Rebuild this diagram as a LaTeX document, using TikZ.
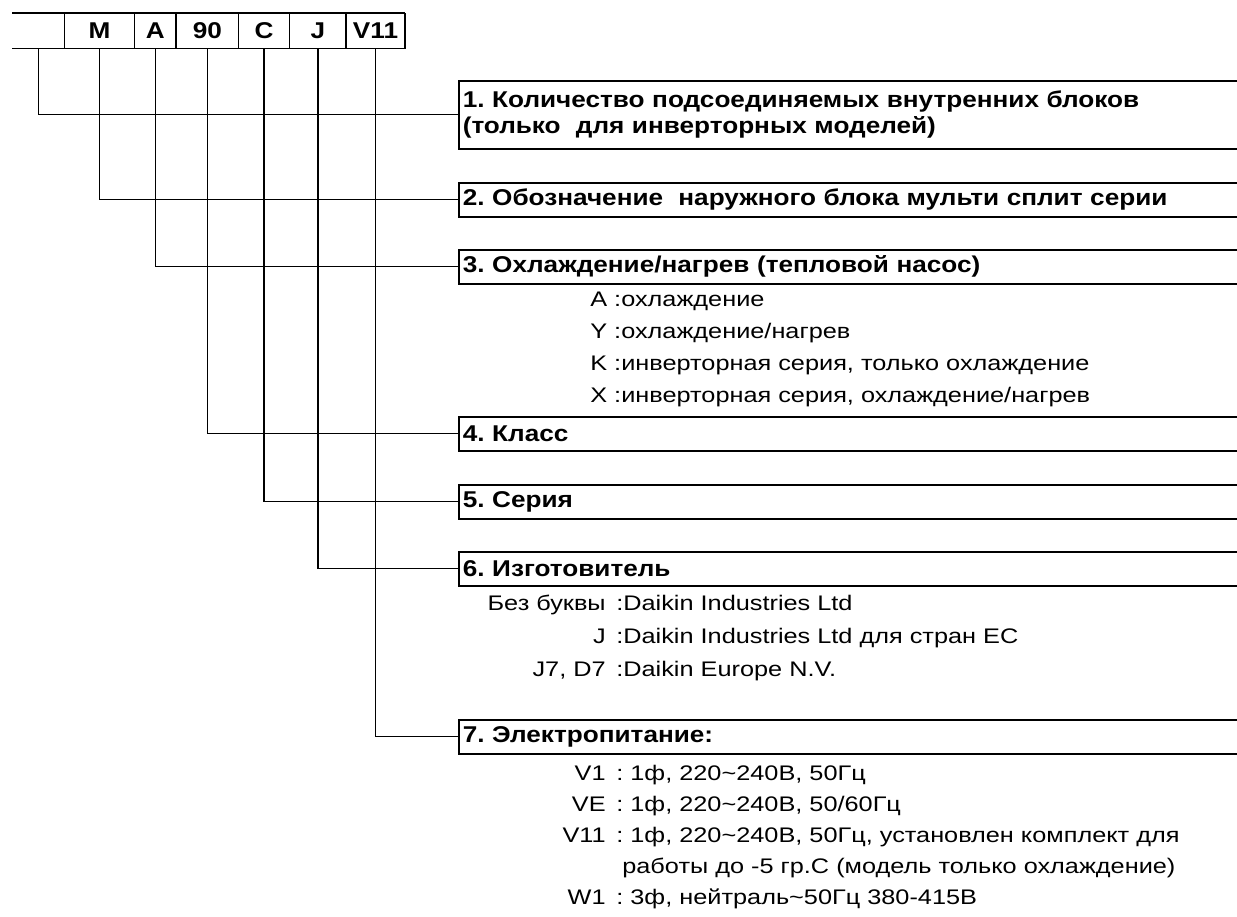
\documentclass[tikz,border=0pt]{standalone}
\usepackage{fontspec}
\setmainfont{Liberation Sans}[UprightFeatures={FakeStretch=1.2},BoldFeatures={FakeStretch=1.145}]
\frenchspacing
\usepackage{tikz}
\usetikzlibrary{positioning}
\tikzset{
  cell/.style={minimum height=0.7cm,inner sep=0pt,font=\bfseries\fontsize{13}{15}\selectfont},
  head/.style={draw,line width=0.9pt,anchor=north west,text width=15.8cm,inner xsep=0.08cm,inner ysep=0pt,minimum height=0.68cm,align=left,font=\bfseries\fontsize{13}{14.8}\selectfont},
  lead/.style={draw,line width=0.8pt},
  item/.style={inner sep=0pt,font=\fontsize{12}{14}\selectfont},
  key/.style={item,anchor=base east},
  val/.style={item,anchor=base west}
}

\begin{document}
\begin{tikzpicture}[x=0.02cm,y=-0.02cm]
  \useasboundingbox (0,0) rectangle (1237,916);
  \clip (0,0) rectangle (1237,916);

  % model code cells
  \node[cell,minimum width=1.04cm,anchor=north west] (c1) at (12,13) {};
  \node[cell,minimum width=1.38cm,right=0pt of c1] (c2) {M};
  \node[cell,minimum width=0.82cm,right=0pt of c2] (c3) {A};
  \node[cell,minimum width=1.24cm,right=0pt of c3] (c4) {90};
  \node[cell,minimum width=1.00cm,right=0pt of c4] (c5) {C};
  \node[cell,minimum width=1.12cm,right=0pt of c5] (c6) {J};
  \node[cell,minimum width=1.16cm,right=0pt of c6] (c7) {V11};
  \draw[lead] (c1.north west) -- (c7.north east);
  \draw[lead] (c1.south west) -- (c7.south east);
  \foreach \c in {c2,c3,c4,c5,c6,c7}
    \draw[lead] (\c.north west) -- (\c.south west);
  \draw[lead] (c7.north east) -- (c7.south east);

  % headings
  \node[head,minimum height=1.36cm] (h1) at (458,80) {1. Количество подсоединяемых внутренних блоков\\(только\ \ для инверторных моделей)};
  \node[head] (h2) at (458,182) {2. Обозначение\ \ наружного блока мульти сплит серии};
  \node[head] (h3) at (458,249) {3. Охлаждение/нагрев (тепловой насос)};
  \node[head] (h4) at (458,416) {4. Класс};
  \node[head] (h5) at (458,484) {5. Серия};
  \node[head] (h6) at (458,551) {6. Изготовитель};
  \node[head] (h7) at (458,719) {7. Электропитание:};

  \foreach \i in {1,...,7}
    \draw[lead] (c\i.south) |- (h\i.west);

  % 3: cooling / heating
  \node[val] (t1) at (590,306) {A :охлаждение};
  \node[val] (t2) at (590,338) {Y :охлаждение/нагрев};
  \node[val] (t3) at (590,370) {K :инверторная серия, только охлаждение};
  \node[val] (t4) at (590,402) {X :инверторная серия, охлаждение/нагрев};

  % 6: maker
  \node[key] (m1) at (606,610) {Без буквы};
  \node[val] (m1t) at (616,610) {:Daikin Industries Ltd};
  \node[key] (m2) at (606,643) {J};
  \node[val] (m2t) at (616,643) {:Daikin Industries Ltd для стран ЕС};
  \node[key] (m3) at (606,676) {J7, D7};
  \node[val] (m3t) at (616,676) {:Daikin Europe N.V.};

  % 7: power supply
  \node[key] (p1) at (606,780) {V1};
  \node[val] (p1t) at (616,780) {: 1ф, 220\textasciitilde240В, 50Гц};
  \node[key] (p2) at (606,811) {VE};
  \node[val] (p2t) at (616,811) {: 1ф, 220\textasciitilde240В, 50/60Гц};
  \node[key] (p3) at (606,842) {V11};
  \node[val] (p3t) at (616,842) {: 1ф, 220\textasciitilde240В, 50Гц, установлен комплект для};
  \node[val] (p3u) at (622,873) {работы до -5 гр.С (модель только охлаждение)};
  \node[key] (p4) at (606,904) {W1};
  \node[val] (p4t) at (616,904) {: 3ф, нейтраль\textasciitilde50Гц 380-415В};
\end{tikzpicture}
\end{document}
